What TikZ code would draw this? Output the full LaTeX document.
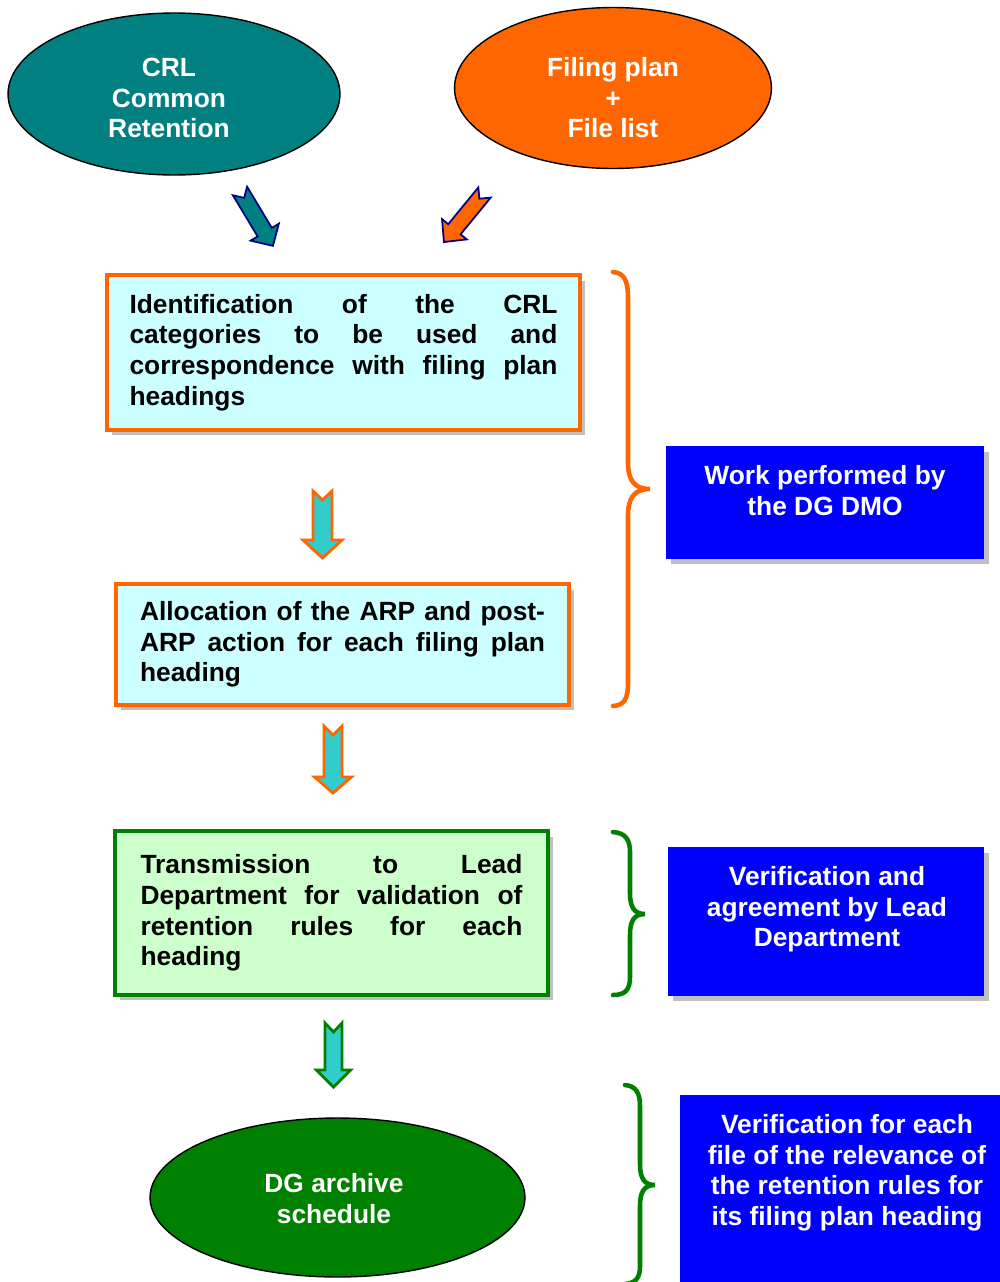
\documentclass[tikz,border=0pt]{standalone}
\usepackage{fontspec}
\setmainfont{Liberation Sans}
\usetikzlibrary{shapes.geometric,shadows}
\definecolor{tealfill}{HTML}{008080}
\definecolor{orangeA}{HTML}{FF6600}
\definecolor{dggreen}{HTML}{008000}
\definecolor{lcyan}{HTML}{CCFFFF}
\definecolor{lgreen}{HTML}{CCFFCC}
\definecolor{bluebox}{HTML}{0000FF}
\definecolor{arrcyan}{HTML}{33CCCC}
\definecolor{navyA}{HTML}{000080}
\definecolor{shadowgray}{HTML}{C0C0C0}
\newcommand\blockarr[9]{\draw[#9,shift={(#1,#2)},rotate=#3] (0,-#5) -- (#4-#7,-#5) -- (#4-#7,-#6) -- (#4,0) -- (#4-#7,#6) -- (#4-#7,#5) -- (0,#5) -- (#8,0) -- cycle;}
\newcommand\jl[2]{\leavevmode\hbox to #1{#2}}
\begin{document}
\begin{tikzpicture}[x=0.02cm,y=-0.02cm,
  txt/.style={font=\fontsize{15pt}{17.4pt}\selectfont\bfseries},
  ell/.style={ellipse,draw=black,line width=0.8pt,inner sep=0pt},
  wtxt/.style={txt,text=white,align=center,inner sep=0pt},
  shad/.style={drop shadow={shadow xshift=0.1cm,shadow yshift=-0.11cm,fill=shadowgray,opacity=1}},
  stepbox/.style={rectangle,line width=2.3pt,shad,txt,inner sep=0pt,minimum width=#1},
  bbox/.style={rectangle,fill=bluebox,draw=none,shad,inner sep=0pt},
  brc/.style={line width=2.6pt,line cap=round},
  downarr/.style={fill=arrcyan,draw=#1,line width=1.6pt,line join=miter},
  diagarr/.style={fill=#1,draw=navyA,line width=1pt,line join=miter}
]
\useasboundingbox (0,0) rectangle (1000,1282);
\clip (0,0) rectangle (1000,1282);
\fill[white] (0,0) rectangle (1000,1282);

% top ellipses
\node[ell,fill=tealfill,minimum width=6.64cm,minimum height=3.24cm] (crl) at (174,94) {};
\node[wtxt] (crlt) at (169,98) {CRL\\Common\\Retention};
\node[ell,fill=orangeA,minimum width=6.34cm,minimum height=3.22cm] (fp) at (613,88) {};
\node[wtxt] (fpt) at (613,98) {Filing plan\\+\\File list};

% diagonal arrows
\blockarr{240}{191}{-59}{64}{8.3}{16.5}{16}{8}{diagarr=tealfill}
\blockarr{484.5}{192.5}{-129.3}{64}{8}{16}{16.5}{8}{diagarr=orangeA}

% box 1
\node[stepbox=9.46cm,draw=orangeA,fill=lcyan,minimum height=3.1cm,text width=8.56cm] (id) at (343.5,352.5)
 {\jl{8.56cm}{Identification\hfill of\hfill the\hfill CRL}\\\jl{8.56cm}{categories\hfill to\hfill be\hfill used\hfill and}\\\jl{8.56cm}{correspondence\hfill with\hfill filing\hfill plan}\\headings};

% arrow 1
\blockarr{322.5}{491}{-90}{67}{9.5}{19.5}{18}{9}{downarr=orangeA}

% box 2
\node[stepbox=9.06cm,draw=orangeA,fill=lcyan,minimum height=2.42cm,text width=8.1cm] (alloc) at (342.5,644.5)
 {\jl{8.1cm}{Allocation\hfill of\hfill the\hfill ARP\hfill and\hfill post-}\\\jl{8.1cm}{ARP\hfill action\hfill for\hfill each\hfill filing\hfill plan}\\heading};

% arrow 2
\blockarr{333}{726}{-90}{67}{9}{18.5}{16}{9}{downarr=orangeA}

% box 3
\node[stepbox=8.66cm,draw=dggreen,fill=lgreen,minimum height=3.28cm,text width=7.64cm] (trans) at (331.5,913)
 {\jl{7.64cm}{Transmission\hfill to\hfill Lead}\\\jl{7.64cm}{Department\hfill for\hfill validation\hfill of}\\\jl{7.64cm}{retention\hfill rules\hfill for\hfill each}\\heading};

% arrow 3
\blockarr{333.5}{1023}{-90}{64}{8.5}{17}{17}{9}{downarr=dggreen}

% bottom ellipse
\node[ell,fill=dggreen,minimum width=7.5cm,minimum height=3.18cm] (dg) at (337.5,1197.5) {};
\node[wtxt] (dgt) at (334,1198.5) {DG archive\\schedule};

% braces
\draw[brc,orangeA] (613,272) .. controls (624,273) and (628,280) .. (628,298) -- (628,462)
  .. controls (628,480) and (634,489) .. (650,489) .. controls (634,489) and (628,498) .. (628,516)
  -- (628,682) .. controls (628,700) and (624,705) .. (613,706);
\draw[brc,dggreen] (613,832) .. controls (625,833) and (630,839) .. (630,852) -- (630,893)
  .. controls (630,907) and (634,914) .. (645,914) .. controls (634,914) and (630,921) .. (630,935)
  -- (630,977) .. controls (630,990) and (625,995) .. (613,995);
\draw[brc,dggreen] (625,1085) .. controls (636,1086) and (640,1093) .. (640,1106) -- (640,1164)
  .. controls (640,1178) and (644,1185) .. (655,1185) .. controls (644,1185) and (640,1192) .. (640,1206)
  -- (640,1266) .. controls (640,1279) and (635,1283) .. (625,1284);

% blue boxes
\node[bbox,minimum width=6.36cm,minimum height=2.26cm] (b1) at (825,502.5) {};
\node[wtxt,anchor=north] (b1t) at (825,465) {Work performed by\\the DG DMO};
\node[bbox,minimum width=6.32cm,minimum height=2.98cm] (b2) at (826,921.5) {};
\node[wtxt,anchor=north] (b2t) at (827,866) {Verification and\\agreement by Lead\\Department};
\node[bbox,minimum width=6.7cm,minimum height=4.2cm] (b3) at (847.5,1200) {};
\node[wtxt,anchor=north] (b3t) at (847,1114) {Verification for each\\file of the relevance of\\the retention rules for\\its filing plan heading};
\end{tikzpicture}
\end{document}
